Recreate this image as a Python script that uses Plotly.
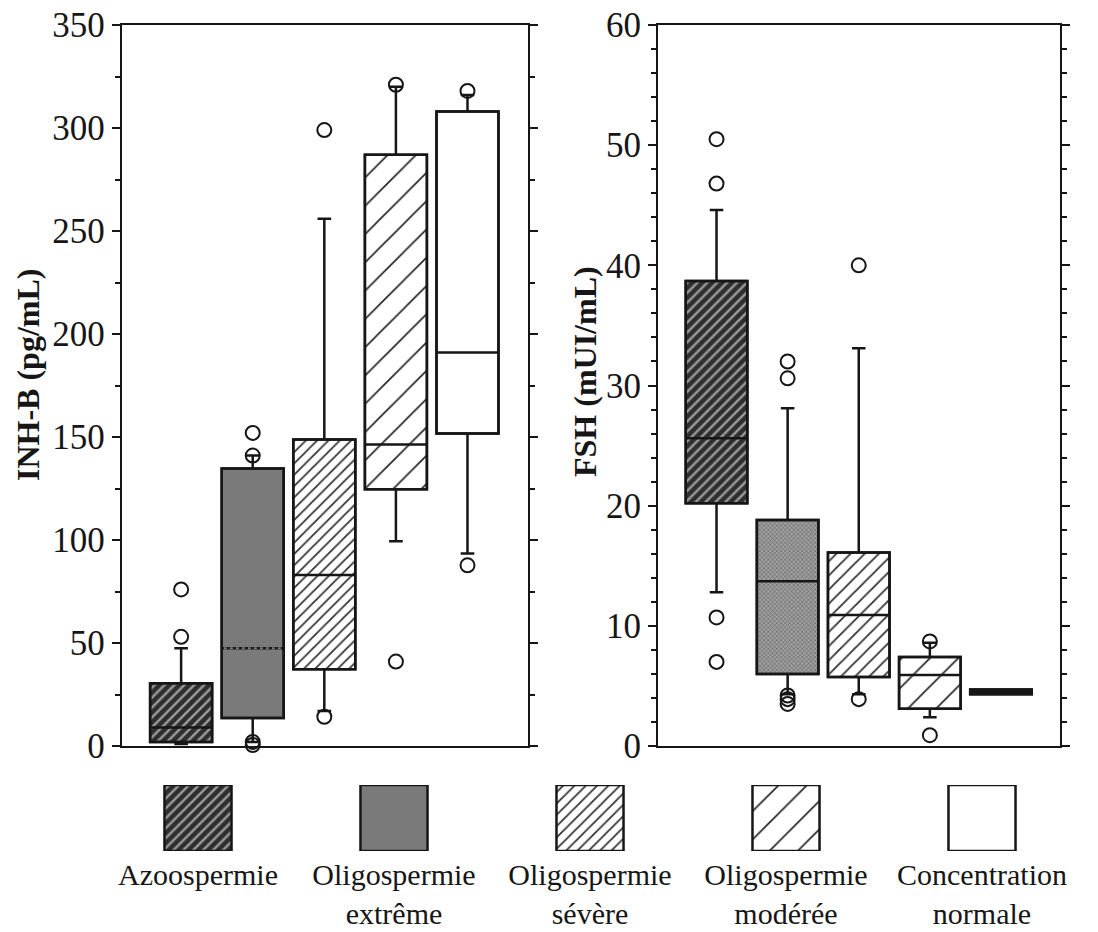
import plotly.graph_objects as go

# ---------------- data ----------------
categories = ["Azoospermie", "Oligospermie<br>extrême", "Oligospermie<br>sévère",
              "Oligospermie<br>modérée", "Concentration<br>normale"]

inhb_q1 = [2, 13.6, 37.3, 124.6, 151.7]
inhb_median = [9, 47.5, 83, 146.4, 191]
inhb_q3 = [30.5, 134.7, 148.8, 287, 308]
inhb_lower = [1, 2, 17, 99.4, 93.5]
inhb_upper = [47.5, 141, 256, 320, 316]
inhb_outliers = [[76, 53, -1], [152, 141, 2, 0.5], [299, 14.2], [321, 41], [318, 87.7]]

fsh_q1 = [20.2, 6.0, 5.75, 3.1, 4.3]
fsh_median = [25.6, 13.7, 10.9, 5.9, 4.5]
fsh_q3 = [38.7, 18.8, 16.1, 7.4, 4.7]
fsh_lower = [12.8, 4.3, 4.3, 2.4, 4.3]
fsh_upper = [44.6, 28.1, 33.1, 8.6, 4.7]
fsh_outliers = [[50.5, 46.8, 10.7, 7.0], [32.0, 30.6, 4.2, 3.9, 3.5], [40, 3.9], [8.7, 0.9], []]

inhb_ticks = [0, 50, 100, 150, 200, 250, 300, 350]
fsh_ticks = [0, 10, 20, 30, 40, 50, 60]

# ---------------- styles ----------------
FONT = "Liberation Serif"
INK = "#161616"

styles_left = [
    dict(shape="/", fg="#9a9a9a", bg="#2e2e2e", size=7, sol=0.35),
    dict(shape="", fg="#7a7a7a", bg="#7a7a7a", size=8, sol=0.3),
    dict(shape="/", fg="#333333", bg="#ffffff", size=8, sol=0.22),
    dict(shape="/", fg="#222222", bg="#ffffff", size=20, sol=0.08),
    dict(shape="", fg="#ffffff", bg="#ffffff", size=8, sol=0.3),
]
styles_right = [
    dict(shape="/", fg="#9a9a9a", bg="#2e2e2e", size=7, sol=0.35),
    dict(shape="x", fg="#555555", bg="#a0a0a0", size=3, sol=0.3),
    dict(shape="/", fg="#333333", bg="#ffffff", size=10, sol=0.18),
    dict(shape="/", fg="#222222", bg="#ffffff", size=20, sol=0.08),
    dict(shape="", fg="#ffffff", bg="#ffffff", size=8, sol=0.3),
]
styles_legend = [
    dict(shape="/", fg="#9a9a9a", bg="#2e2e2e", size=7, sol=0.35),
    dict(shape="", fg="#7a7a7a", bg="#7a7a7a", size=8, sol=0.3),
    dict(shape="/", fg="#333333", bg="#ffffff", size=8, sol=0.22),
    dict(shape="/", fg="#222222", bg="#ffffff", size=20, sol=0.08),
    dict(shape="", fg="#ffffff", bg="#ffffff", size=8, sol=0.3),
]

BOXW = 0.866
fig = go.Figure()


def add_panel(q1, med, q3, lo, hi, outl, styles, xa, ya, dotted=None):
    for i in range(len(q1)):
        st = styles[i]
        pat = dict(shape=st["shape"], fgcolor=st["fg"], bgcolor=st["bg"],
                   size=st["size"], solidity=st["sol"], fillmode="replace")
        fig.add_trace(go.Bar(
            x=[i], y=[q3[i] - q1[i]], base=[q1[i]], width=BOXW,
            marker=dict(color=st["bg"] if st["shape"] == "" else st["fg"],
                        pattern=pat, line=dict(color=INK, width=2.5)),
            xaxis=xa, yaxis=ya, showlegend=False, hoverinfo="skip"))
    for i in range(len(q1)):
        fig.add_trace(go.Box(
            x=[i], q1=[q1[i]], median=[med[i]], q3=[q3[i]],
            lowerfence=[lo[i]], upperfence=[hi[i]], width=BOXW,
            whiskerwidth=0.22, fillcolor="rgba(0,0,0,0)",
            line=dict(color=INK, width=2.5), boxpoints=False,
            xaxis=xa, yaxis=ya, showlegend=False, hoverinfo="skip"))
    if dotted is not None:
        i = dotted
        fig.add_trace(go.Scatter(
            x=[i - BOXW / 2 + 0.03, i + BOXW / 2 - 0.03], y=[med[i], med[i]],
            mode="lines", line=dict(color="#7a7a7a", width=2, dash="dot"),
            xaxis=xa, yaxis=ya, showlegend=False, hoverinfo="skip"))
    ox, oy = [], []
    for i, vals in enumerate(outl):
        for v in vals:
            ox.append(i)
            oy.append(v)
    fig.add_trace(go.Scatter(
        x=ox, y=oy, mode="markers", cliponaxis=False,
        marker=dict(symbol="circle-open", size=14, color=INK, line=dict(width=2)),
        xaxis=xa, yaxis=ya, showlegend=False, hoverinfo="skip"))


add_panel(inhb_q1, inhb_median, inhb_q3, inhb_lower, inhb_upper, inhb_outliers,
          styles_left, "x", "y", dotted=1)
add_panel(fsh_q1, fsh_median, fsh_q3, fsh_lower, fsh_upper, fsh_outliers,
          styles_right, "x2", "y2")

# legend swatches as bars on a third axis
for i, st in enumerate(styles_legend):
    pat = dict(shape=st["shape"], fgcolor=st["fg"], bgcolor=st["bg"],
               size=st["size"], solidity=st["sol"], fillmode="replace")
    fig.add_trace(go.Bar(
        x=[i], y=[1], base=[0], width=0.342,
        marker=dict(color=st["bg"] if st["shape"] == "" else st["fg"],
                    pattern=pat, line=dict(color=INK, width=2.5)),
        xaxis="x3", yaxis="y3", showlegend=False, hoverinfo="skip"))

W, H = 1098, 932


def px(x):
    return x / W


def py(y):
    return 1 - y / H


ydom = [py(746), py(25)]

xcommon = dict(showline=True, linecolor=INK, linewidth=2, mirror=True,
               showticklabels=False, ticks="", showgrid=False, zeroline=False)
ycommon = dict(showline=True, linecolor=INK, linewidth=2, mirror="ticks",
               ticks="outside", ticklen=8, tickwidth=2, tickcolor=INK,
               showgrid=False, zeroline=False,
               tickfont=dict(family=FONT, size=35, color=INK))

fig.update_layout(
    width=W, height=H,
    margin=dict(l=0, r=0, t=0, b=0, autoexpand=False),
    paper_bgcolor="white", plot_bgcolor="white",
    barmode="overlay", boxmode="overlay",
    xaxis=dict(domain=[px(121.7), px(528)], range=[-0.83, 4.845], anchor="y", **xcommon),
    yaxis=dict(domain=ydom, range=[0, 350], tickvals=inhb_ticks, anchor="x",
               minor=dict(dtick=25, ticks="outside", ticklen=5, tickwidth=2, tickcolor=INK),
               **ycommon),
    xaxis2=dict(domain=[px(658), px(1060)], range=[-0.823, 4.83], anchor="y2", **xcommon),
    yaxis2=dict(domain=ydom, range=[0, 60], tickvals=fsh_ticks, anchor="x2",
                minor=dict(dtick=2, ticks="outside", ticklen=5, tickwidth=2, tickcolor=INK),
                **ycommon),
    xaxis3=dict(domain=[px(100), px(1080)], range=[-0.5, 4.5], anchor="y3",
                showline=False, showgrid=False, zeroline=False, ticks="",
                ticklabelstandoff=3,
                tickvals=list(range(len(categories))), ticktext=categories,
                tickfont=dict(family=FONT, size=30, color=INK)),
    yaxis3=dict(domain=[py(851), py(785)], range=[0, 1], anchor="x3",
                visible=False),
    annotations=[
        dict(text="<b>INH-B (pg/mL)</b>", x=px(28), y=py(375), xref="paper", yref="paper",
             textangle=-90, showarrow=False, xanchor="center", yanchor="middle",
             font=dict(family=FONT, size=32, color=INK)),
        dict(text="<b>FSH (mUI/mL)</b>", x=px(585), y=py(372), xref="paper", yref="paper",
             textangle=-90, showarrow=False, xanchor="center", yanchor="middle",
             font=dict(family=FONT, size=32, color=INK)),
    ],
)

fig.write_html("out.html", config={"displayModeBar": False},
               post_script="document.body.style.margin='0';")
